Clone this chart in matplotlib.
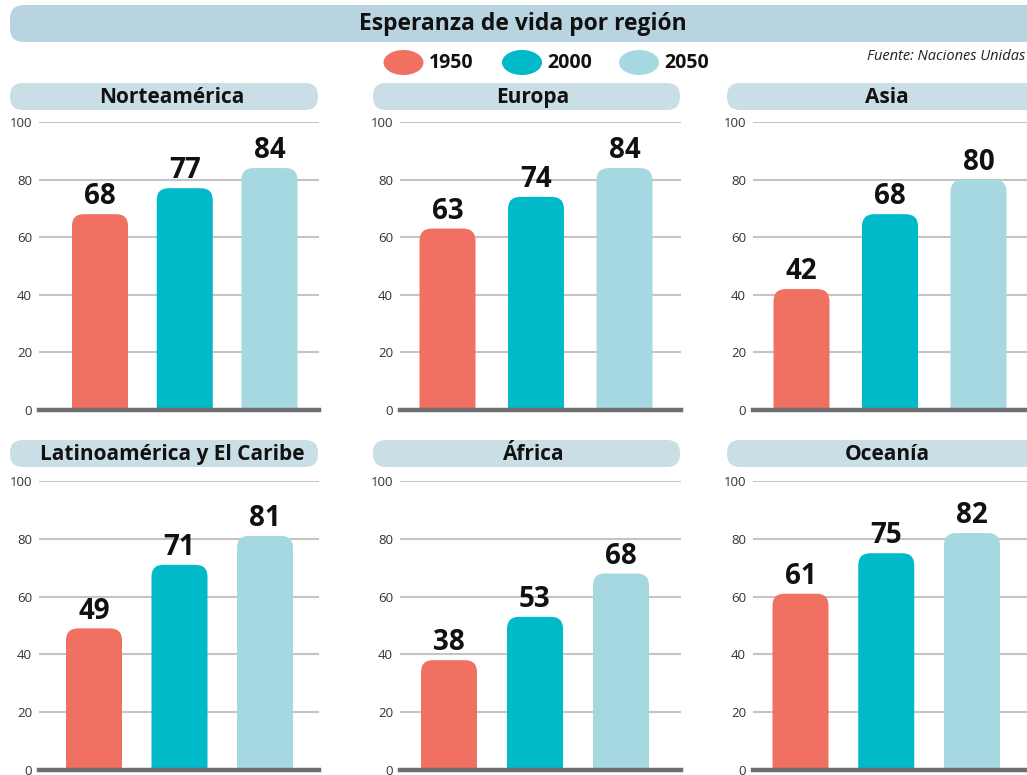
import matplotlib
matplotlib.use("Agg")
import matplotlib.pyplot as plt
from matplotlib.patches import FancyBboxPatch, Ellipse

plt.rcParams['font.family'] = ['Open Sans', 'DejaVu Sans']

# ---------------- data ----------------
title = "Esperanza de vida por región"
source = "Fuente: Naciones Unidas"
years = ["1950", "2000", "2050"]
regions = ["Norteamérica", "Europa", "Asia",
           "Latinoamérica y El Caribe", "África", "Oceanía"]
v1950 = [68, 63, 42, 49, 38, 61]
v2000 = [77, 74, 68, 71, 53, 75]
v2050 = [84, 84, 80, 81, 68, 82]
yticks = [0, 20, 40, 60, 80, 100]

colors = ["#f07062", "#00b9c9", "#a5d8e0"]
title_bg = "#b8d4e1"
pill_bg = "#c9dee5"

W, H = 1027, 775
fig = plt.figure(figsize=(W / 100, H / 100), dpi=100)

# background axes in pixel units
bg = fig.add_axes([0, 0, 1, 1])
bg.set_xlim(0, W)
bg.set_ylim(H, 0)
bg.axis("off")

# title bar
bg.add_patch(FancyBboxPatch((10, 5), 1040, 37, boxstyle="round,pad=0,rounding_size=14",
                            fc=title_bg, ec="none", clip_on=True))
bg.text(523, 23.5, title, ha="center", va="center", fontsize=16.5, fontweight="bold", color="#111111")

# legend
leg_x = [403.5, 522, 639]
for lx, c, yr in zip(leg_x, colors, years):
    bg.add_patch(Ellipse((lx, 62.5), 40, 25, fc=c, ec="none"))
    bg.text(lx + 25, 62.5, yr, ha="left", va="center", fontsize=14, fontweight="bold", color="#111111")
bg.text(1025, 57, source, ha="right", va="center", fontsize=10.5, style="italic", color="#222222")

# panel layout (pixels)
pill_x = [(10, 318), (373, 680), (727, 1060)]
text_cx = [172, 533, 887]
ax_x = [(39, 319), (400, 681), (753, 1027)]
row_pill_y = [(83, 110), (440, 467)]
row_axis_y = [(122, 410), (481, 770)]
first_center = [[100, 447.5, 801.5], [94, 449, 800.5]]
spacing = [[84.75, 88.5, 88.5], [85.5, 86, 85.75]]
bar_px = 56

for i, reg in enumerate(regions):
    r, c = divmod(i, 3)
    px0, px1 = pill_x[c]
    py0, py1 = row_pill_y[r]
    bg.add_patch(FancyBboxPatch((px0, py0), px1 - px0, py1 - py0,
                                boxstyle="round,pad=0,rounding_size=13", fc=pill_bg, ec="none"))
    bg.text(text_cx[c], (py0 + py1) / 2 + 1, reg,
            ha="center", va="center", fontsize=15, fontweight="bold", color="#111111")

    ax0, ax1 = ax_x[c]
    ay0, ay1 = row_axis_y[r]
    sp = spacing[r][c]
    ax = fig.add_axes([ax0 / W, 1 - ay1 / H, (ax1 - ax0) / W, (ay1 - ay0) / H])
    left = -(first_center[r][c] - ax0) / sp
    ax.set_xlim(left, left + (ax1 - ax0) / sp)
    ax.set_ylim(0, 100)
    ax.set_yticks(yticks)
    ax.set_xticks([])
    for s in ax.spines.values():
        s.set_visible(False)
    ax.tick_params(axis="y", length=0, pad=5, labelsize=9.5, labelcolor="#333333")
    ax.patch.set_alpha(0)
    for yt in yticks[1:]:
        ax.axhline(yt, color="#c4c4c4", lw=1.5, zorder=0)
    ax.axhline(0, color="#6e6e6e", lw=3.2, zorder=5, clip_on=False)

    y_per_px = 100 / (ay1 - ay0)
    x_per_px = 1 / sp
    aspect = y_per_px / x_per_px
    bw = bar_px / sp
    vals = [v1950[i], v2000[i], v2050[i]]
    for k, (v, col) in enumerate(zip(vals, colors)):
        ax.add_patch(FancyBboxPatch((k - bw / 2, -10), bw, v + 10,
                                    boxstyle="round,pad=0,rounding_size=0.14",
                                    mutation_aspect=aspect, fc=col, ec="none", zorder=2))
        ax.annotate(str(v), (k, v), xytext=(0, 2), textcoords="offset points",
                    ha="center", va="bottom", fontsize=20, fontweight="bold",
                    color="#111111", annotation_clip=False)

fig.savefig("out.png", dpi=100)
